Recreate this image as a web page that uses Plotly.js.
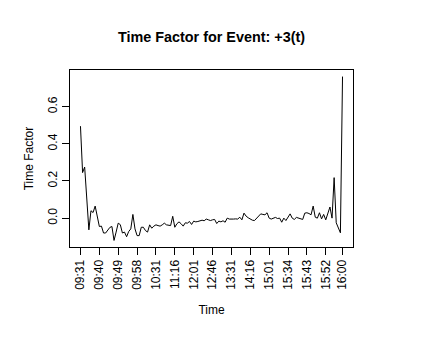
<!DOCTYPE html>
<html>
<head>
<meta charset="utf-8">
<script src="https://cdn.plot.ly/plotly-3.0.1.min.js"></script>
<style>
  html, body { margin: 0; padding: 0; background: #fff; }
  #chart { width: 423px; height: 353px; }
</style>
</head>
<body>
<div id="chart"></div>
<script>
// time factor per interval
const factor = [
  0.495, 0.245, 0.275, 0.11, -0.063, 0.04, 0.03, 0.065, 0.015, -0.045,
  -0.043, -0.08, -0.08, -0.067, -0.05, -0.045, -0.12, -0.075, -0.027, -0.035,
  -0.08, -0.075, -0.1, -0.072, -0.058, 0.02, -0.058, -0.094, -0.094, -0.049,
  -0.049, -0.067, -0.075, -0.036, -0.054, -0.043, -0.036, -0.04, -0.043, -0.036,
  -0.027, -0.036, -0.036, -0.04, 0.01, -0.049, -0.03, -0.02, -0.03, -0.043,
  -0.025, -0.027, -0.018, -0.034, -0.016, -0.02, -0.018, -0.013, -0.011, -0.014,
  -0.005, -0.009, -0.013, -0.009, -0.007, -0.029, -0.016, -0.02, -0.014, -0.022,
  0.0, -0.005, -0.007, -0.005, -0.004, -0.005, 0.005, -0.009, 0.027, 0.011,
  0.002, -0.005, -0.011, -0.013, 0.0, 0.009, 0.023, 0.02, 0.018, 0.029,
  0.0, -0.005, 0.0, 0.004, -0.002, 0.0, -0.022, 0.0, -0.013, 0.005,
  0.023, 0.0, -0.007, 0.004, 0.0, -0.005, -0.007, 0.027, 0.029, 0.025,
  0.018, 0.065, 0.005, 0.0, 0.029, -0.004, 0.02, -0.009, 0.02, 0.06,
  0.0, 0.218, -0.025, -0.058, -0.079, 0.762
]
// positions (interval number) where the time labels sit
const tickIndex = [0, 9, 18, 27, 36, 45, 54, 63, 72, 81, 90, 99, 108, 117, 125]
const tickTimes = ['09:31', '09:40', '09:49', '09:58', '10:31', '11:16', '12:01', '12:46',
                   '13:31', '14:16', '15:01', '15:34', '15:43', '15:52', '16:00']
const yTicks = [0, 0.2, 0.4, 0.6]

const xIndex = factor.map((_, i) => i)
const font = 'Liberation Sans, Arial, Helvetica, sans-serif'

const trace = {
    x: xIndex,
    y: factor,
    type: 'scatter',
    mode: 'lines',
    line: { color: '#000', width: 1 },
    hoverinfo: 'x+y'
}

Plotly.newPlot('chart', [trace], {
    width: 423,
    height: 353,
    margin: { l: 70, r: 70, t: 70, b: 106 },
    paper_bgcolor: '#fff',
    plot_bgcolor: '#fff',
    showlegend: false,
    font: { family: font, size: 12, color: '#000' },
    title: {
        text: '<b>Time Factor for Event: +3(t)</b>',
        font: { family: font, size: 14.4, color: '#000' },
        xref: 'paper', x: 0.5, xanchor: 'center',
        yref: 'container', y: 0.895, yanchor: 'middle'
    },
    xaxis: {
        range: [-5, 130],
        tickmode: 'array',
        tickvals: tickIndex,
        ticktext: tickTimes,
        tickangle: -90,
        ticks: 'outside',
        ticklen: 7,
        tickcolor: '#000',
        showgrid: false,
        zeroline: false,
        showline: true,
        linecolor: '#000',
        linewidth: 1,
        mirror: true,
        tickfont: { family: font, size: 12, color: '#000' },
        title: { text: 'Time', font: { family: font, size: 12, color: '#000' }, standoff: 16 }
    },
    yaxis: {
        range: [-0.1553, 0.7973],
        tickmode: 'array',
        tickvals: yTicks,
        tickformat: '.1f',
        tickangle: -90,
        ticks: 'outside',
        ticklen: 7,
        tickcolor: '#000',
        showgrid: false,
        zeroline: false,
        showline: true,
        linecolor: '#000',
        linewidth: 1,
        mirror: true,
        tickfont: { family: font, size: 12, color: '#000' },
        title: { text: 'Time Factor', font: { family: font, size: 12, color: '#000' }, standoff: 10 }
    }
}, { displayModeBar: false, staticPlot: true })
</script>
</body>
</html>
